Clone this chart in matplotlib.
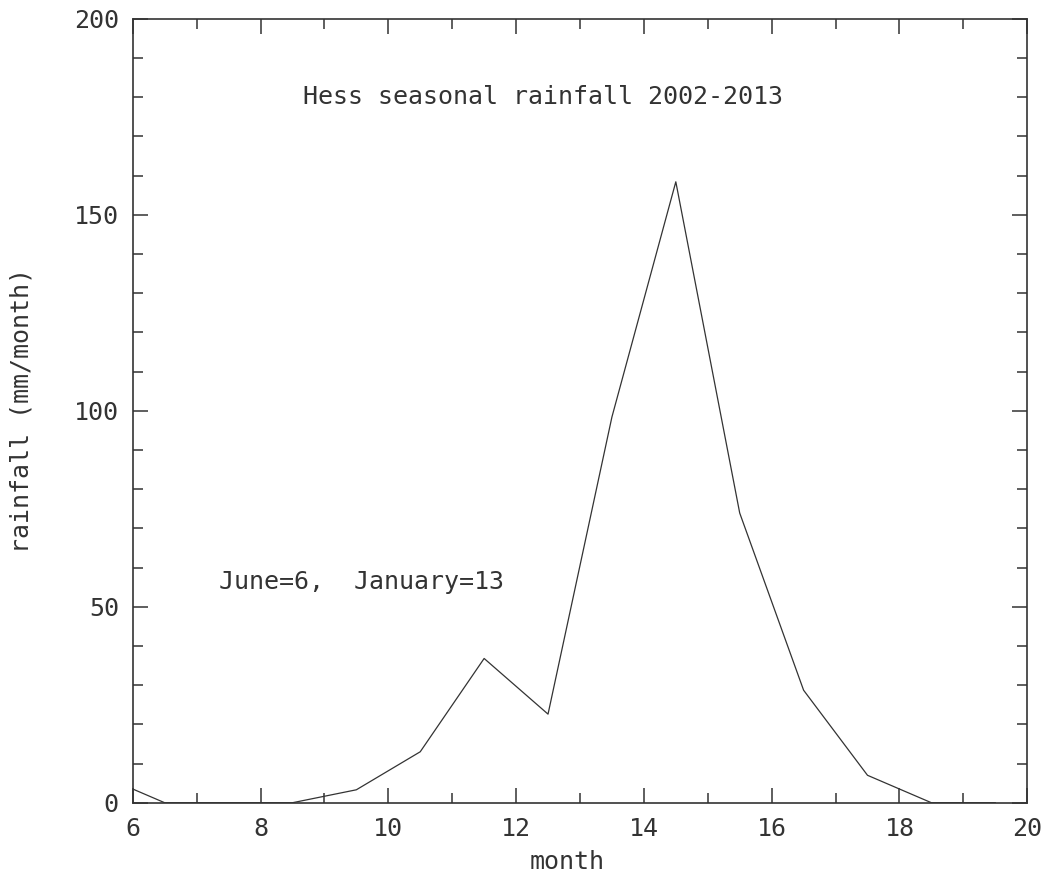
import matplotlib.pyplot as plt
from matplotlib.ticker import MultipleLocator

# month mid-points (June=6, January=13), May repeated at 5.5 so the curve wraps
months = [5.5, 6.5, 7.5, 8.5, 9.5, 10.5, 11.5, 12.5, 13.5, 14.5, 15.5, 16.5, 17.5, 18.5, 19.5]
rain = [7.0, 0, 0, 0, 3.3, 13.0, 36.8, 22.6, 98.4, 158.4, 73.9, 28.7, 7.0, 0, 0]

title_txt = 'Hess seasonal rainfall 2002-2013'
note_txt = 'June=6,  January=13'

ink = '#333333'
plt.rcParams['font.family'] = 'DejaVu Sans Mono'
fs = 18

fig = plt.figure(figsize=(10.45, 8.75), dpi=100)
ax = fig.add_axes([0.127, 0.0826, 0.856, 0.896])

ax.plot(months, rain, color=ink, lw=0.9)

ax.set_xlim(6, 20)
ax.set_ylim(0, 200)
ax.xaxis.set_major_locator(MultipleLocator(2))
ax.xaxis.set_minor_locator(MultipleLocator(1))
ax.yaxis.set_major_locator(MultipleLocator(50))
ax.yaxis.set_minor_locator(MultipleLocator(10))
ax.tick_params(which='both', direction='in', top=True, right=True, color=ink,
               width=1.1, labelcolor=ink, labelsize=fs)
ax.tick_params(which='major', length=11, pad=10)
ax.tick_params(which='minor', length=7)
for s in ax.spines.values():
    s.set_color(ink)
    s.set_linewidth(1.2)

ax.set_xlabel('month', fontsize=fs, color=ink, va='center')
ax.xaxis.set_label_coords(0.486, -0.0757)
ax.set_ylabel('rainfall (mm/month)', fontsize=fs, color=ink, va='center')
ax.yaxis.set_label_coords(-0.124, 0.5)

ax.text(8.66, 180, title_txt, fontsize=fs, color=ink, va='center', ha='left')
ax.text(7.35, 56.3, note_txt, fontsize=fs, color=ink, va='center', ha='left')

fig.savefig('out.png', dpi=100)
